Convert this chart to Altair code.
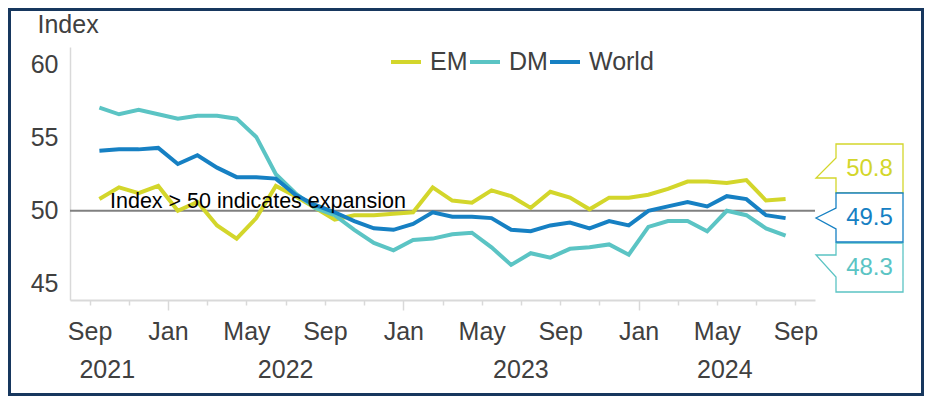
import json
import altair as alt
import pandas as pd

# ---------------- data ----------------
series_names = ["EM", "DM", "World"]
series_colors = ["#d3d62b", "#5bc4c4", "#1680c3"]

# monthly values, Sep 2021 .. Aug 2024
em = [50.8, 51.6, 51.2, 51.7, 50.0, 50.6, 49.0, 48.1, 49.5, 51.7, 51.0, 50.2,
      49.4, 49.7, 49.7, 49.8, 49.9, 51.6, 50.7, 50.55, 51.4, 51.0, 50.2, 51.3,
      50.9, 50.1, 50.9, 50.9, 51.1, 51.5, 52.0, 52.0, 51.9, 52.1, 50.7, 50.8]
dm = [57.05, 56.6, 56.9, 56.6, 56.3, 56.5, 56.5, 56.3, 55.05, 52.5, 51.2, 50.2,
      49.7, 48.7, 47.8, 47.3, 48.0, 48.1, 48.4, 48.5, 47.5, 46.3, 47.1, 46.8,
      47.4, 47.5, 47.7, 47.0, 48.9, 49.3, 49.3, 48.6, 50.0, 49.7, 48.8, 48.3]
world = [54.1, 54.2, 54.2, 54.3, 53.2, 53.8, 52.95, 52.3, 52.3, 52.2, 51.1, 50.4,
         49.9, 49.3, 48.8, 48.7, 49.1, 49.9, 49.6, 49.6, 49.5, 48.7, 48.6, 49.0,
         49.2, 48.8, 49.3, 49.0, 50.0, 50.3, 50.6, 50.3, 51.0, 50.8, 49.7, 49.5]

tick_month_names = ["Sep", "Jan", "May"]      # labels every 4 months starting Sep 2021
year_labels = ["2021", "2022", "2023", "2024"]
year_label_pos = [0.9, 10, 22, 32.4]          # month index (Sep 2021 = 0)
ref_value = 50
ref_text = "Index > 50 indicates expansion"

# ---------------- tables ----------------
rows = []
for name, vals in zip(series_names, [em, dm, world]):
    for i, v in enumerate(vals):
        rows.append({"series": name, "t": i + 0.5, "value": v})
df = pd.DataFrame(rows)

years_df = pd.DataFrame({"year": year_labels, "pos": year_label_pos})

# callout decorations (pixel geometry)
W, H = 745, 253
box = "M-33.5,-24.5 L33.5,-24.5 L33.5,24.5 L-33.5,24.5 "
callouts = pd.DataFrame({
    "series": series_names,
    "label": [f"{em[-1]:.1f}", f"{dm[-1]:.1f}", f"{world[-1]:.1f}"],
    "color": series_colors,
    "cx": [799.5, 799.5, 799.5],
    "cy": [121.5, 220.5, 170.5],
    "path": [box + "L-33.5,9.5 L-53.5,9.5 L-33.5,-10.5 Z",
             box + "L-33.5,9.5 L-53.5,-12.5 L-33.5,-12.5 Z",
             box + "L-33.5,11.5 L-53.5,0.5 L-33.5,-9.5 Z"],
})

FONT = "Liberation Sans"
TXT = "#404040"
AXC = "#d9d9d9"
FS = 25

xscale = alt.Scale(domain=[-1, 37], nice=False, zero=False)
yscale = alt.Scale(domain=[43.9, 61.2], nice=False, zero=False)
cscale = alt.Scale(domain=series_names, range=series_colors)

label_expr = ("datum.value % 4 == 0 ? " + json.dumps(tick_month_names)
              + "[(datum.value % 12) / 4] : ''")
is_jan = "(datum.value - 4) % 12 == 0"

x_axis = alt.Axis(
    values=list(range(0, 37, 2)), labelExpr=label_expr, title=None, grid=False,
    domainColor=AXC, domainWidth=2, tickColor=AXC, tickWidth=1.5,
    tickSize={"condition": {"test": is_jan, "value": 10}, "value": 5},
    labelPadding={"condition": {"test": is_jan, "value": 9}, "value": 14},
    labelFontSize=FS, labelColor=TXT, labelFont=FONT,
    labelFlush=False, labelOverlap=False,
)
y_axis = alt.Axis(
    values=[45, 50, 55, 60], ticks=False, grid=False, domainColor=AXC, domainWidth=1.5,
    labelFontSize=FS, labelColor=TXT, labelFont=FONT, labelPadding=12,
    title="Index", titleAngle=0, titleAlign="left", titleBaseline="alphabetic",
    titleX=-33, titleY=-15, titleFontSize=FS, titleFontWeight="normal",
    titleColor=TXT, titleFont=FONT,
)

lines = alt.Chart(df).mark_line(strokeWidth=4).encode(
    x=alt.X("t:Q", scale=xscale, axis=x_axis),
    y=alt.Y("value:Q", scale=yscale, axis=y_axis),
    color=alt.Color(
        "series:N", scale=cscale, sort=series_names,
        legend=alt.Legend(
            orient="none", legendX=319, legendY=-2, direction="horizontal", title=None,
            symbolType="stroke", symbolStrokeWidth=4, symbolSize=900,
            labelFontSize=FS, labelColor=TXT, labelFont=FONT, labelOffset=7,
            columnPadding=-9,
        ),
    ),
)

ref = alt.Chart(pd.DataFrame({"v": [ref_value]})).mark_rule(
    color="#808080", strokeWidth=2
).encode(y=alt.Y("v:Q", scale=yscale))

ref_label = alt.Chart(pd.DataFrame({"txt": [ref_text]})).mark_text(
    align="left", baseline="alphabetic", fontSize=21.5, font=FONT, color="#000000"
).encode(x=alt.value(40), y=alt.value(161), text="txt:N")

year_text = alt.Chart(years_df).mark_text(
    align="center", baseline="alphabetic", fontSize=FS, font=FONT, color=TXT
).encode(x=alt.X("pos:Q", scale=xscale), y=alt.value(331), text="year:N")

call_box = alt.Chart(callouts).mark_point(
    size=4, filled=True, fill="white", opacity=1, strokeWidth=1.3, strokeOpacity=1
).encode(
    x=alt.X("cx:Q", scale=None), y=alt.Y("cy:Q", scale=None),
    shape=alt.Shape("path:N", scale=None, legend=None),
    stroke=alt.Stroke("color:N", scale=None, legend=None),
)

call_text = alt.Chart(callouts).mark_text(
    align="center", baseline="middle", fontSize=24, font=FONT
).encode(
    x=alt.X("cx:Q", scale=None), y=alt.Y("cy:Q", scale=None),
    text="label:N", color=alt.Color("color:N", scale=None, legend=None),
)

frame = alt.Chart(pd.DataFrame({"a": [0]})).mark_rect(
    fill=None, filled=False, stroke="#17375e", strokeWidth=3
).encode(
    x=alt.value(-60.5), x2=alt.value(852.5), y=alt.value(-37.5), y2=alt.value(347.5)
)

chart = alt.layer(ref, lines, ref_label, year_text, call_box, call_text, frame).properties(
    width=W, height=H, autosize="none",
    padding={"left": 62, "top": 39, "right": 109, "bottom": 96},
    background="white",
).configure_view(stroke=None)

chart.save("out.html", embed_options={"renderer": "svg", "actions": False})
